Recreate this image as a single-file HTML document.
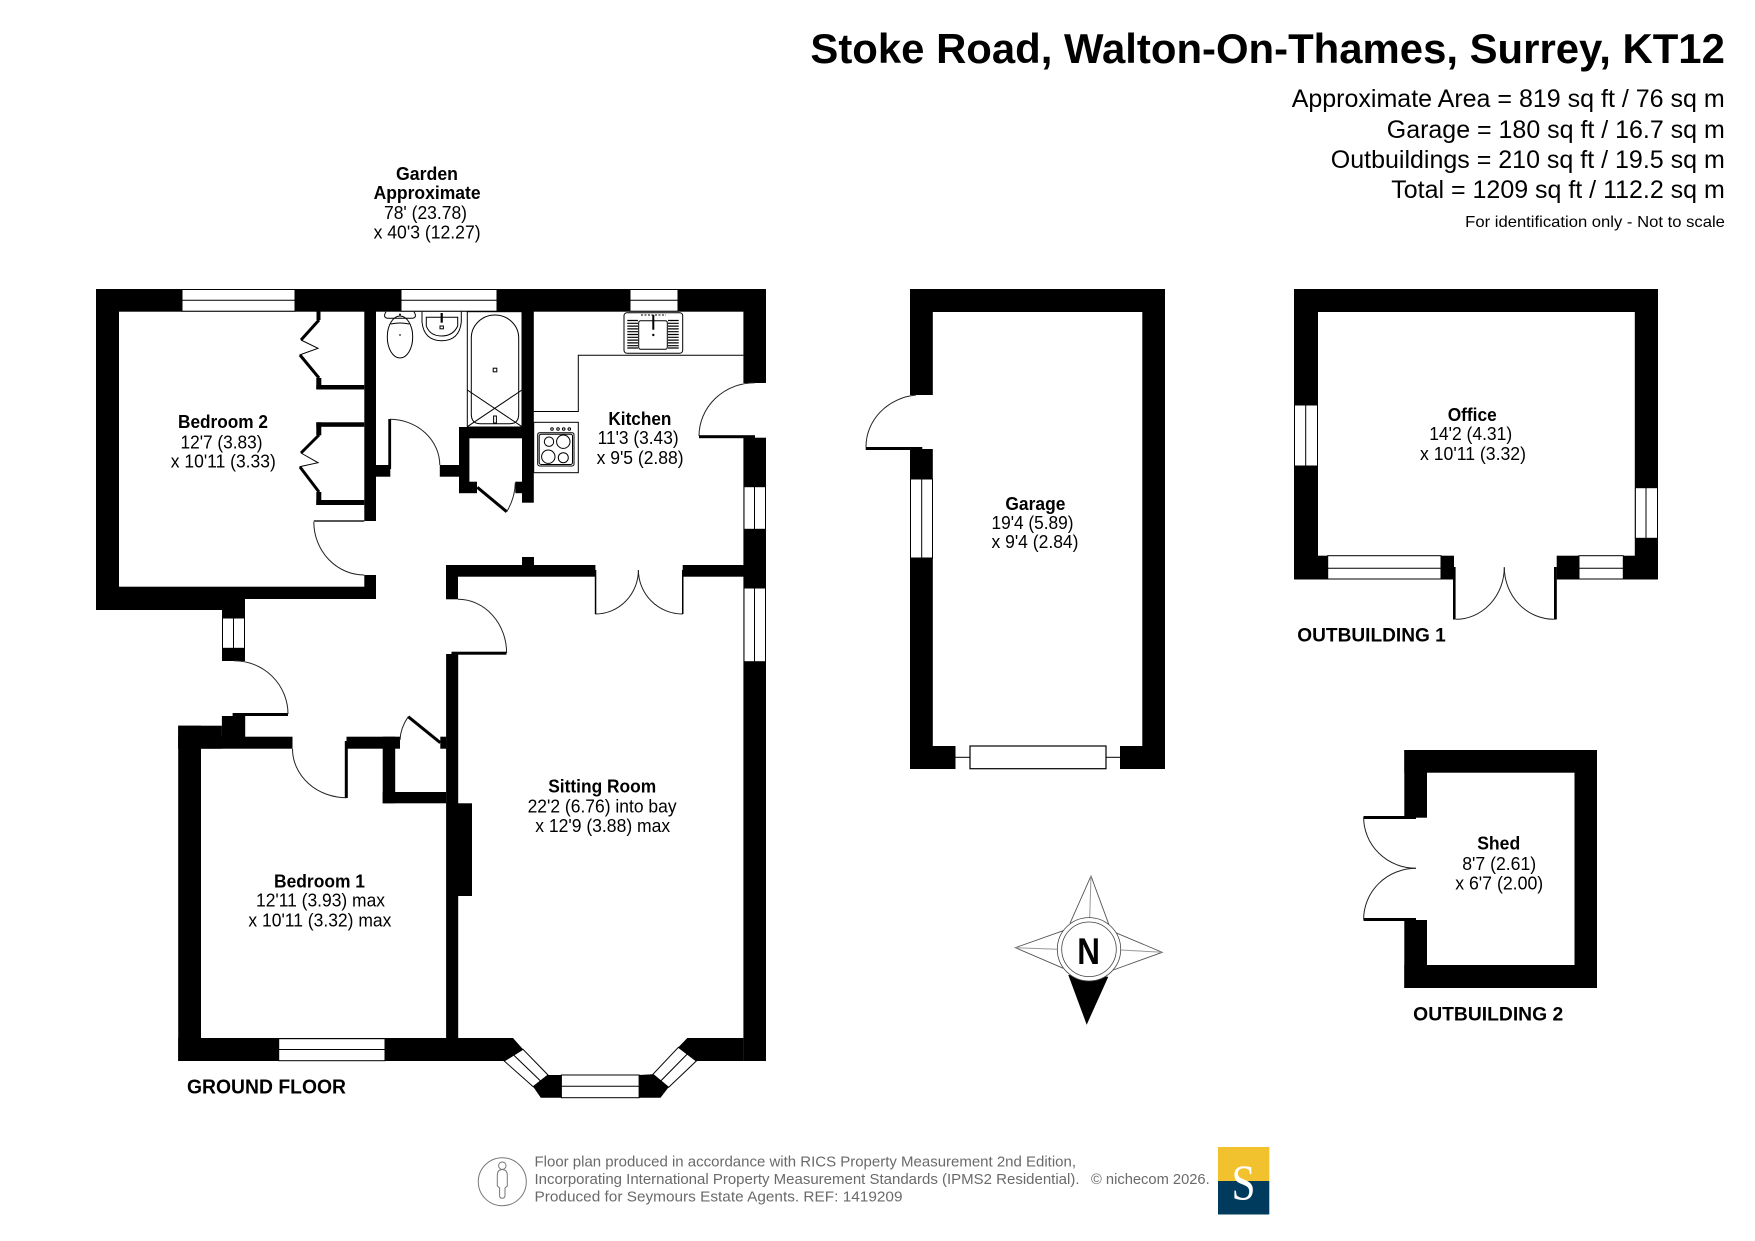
<!DOCTYPE html>
<html><head><meta charset="utf-8"><title>Stoke Road floor plan</title>
<style>html,body{margin:0;padding:0;background:#fff}svg{display:block}
text{font-family:"Liberation Sans",sans-serif;fill:#000}
.b{font-weight:bold}.r{font-size:18px}.h{font-size:18px;font-weight:bold}
.l{fill:none;stroke:#000;stroke-width:1}.t{fill:none;stroke:#000;stroke-width:3}.a{fill:none;stroke:#222;stroke-width:1}
.w{fill:#fff;stroke:#000;stroke-width:1}.f{font-size:14.5px;fill:#6a6a6a}</style></head>
<body>
<svg width="1755" height="1241" viewBox="0 0 1755 1241" xmlns="http://www.w3.org/2000/svg">
<rect width="1755" height="1241" fill="#fff"/>
<!-- header -->
<text x="810.4" y="63" class="b" font-size="42" textLength="914.5" lengthAdjust="spacingAndGlyphs">Stoke Road, Walton-On-Thames, Surrey, KT12</text>
<text x="1291.7" y="107" font-size="25" textLength="433" lengthAdjust="spacingAndGlyphs">Approximate Area = 819 sq ft / 76 sq m</text>
<text x="1386.8" y="138" font-size="25" textLength="338" lengthAdjust="spacingAndGlyphs">Garage = 180 sq ft / 16.7 sq m</text>
<text x="1330.8" y="168" font-size="25" textLength="394" lengthAdjust="spacingAndGlyphs">Outbuildings = 210 sq ft / 19.5 sq m</text>
<text x="1391.3" y="198" font-size="25" textLength="333.5" lengthAdjust="spacingAndGlyphs">Total = 1209 sq ft / 112.2 sq m</text>
<text x="1465.2" y="227" font-size="16" textLength="259.7" lengthAdjust="spacingAndGlyphs">For identification only - Not to scale</text>
<!-- garden -->
<text x="396" y="180" class="h" textLength="62" lengthAdjust="spacingAndGlyphs">Garden</text>
<text x="373.6" y="199" class="h" textLength="107" lengthAdjust="spacingAndGlyphs">Approximate</text>
<text x="384" y="219" class="r" textLength="83" lengthAdjust="spacingAndGlyphs">78' (23.78)</text>
<text x="373.6" y="238.6" class="r" textLength="107" lengthAdjust="spacingAndGlyphs">x 40'3 (12.27)</text>

<!-- GROUND FLOOR walls -->
<g fill="#000">
<rect x="96" y="289" width="670" height="22.7"/>
<rect x="96" y="289" width="23" height="321"/>
<rect x="96" y="586.7" width="280" height="12.3"/>
<rect x="96" y="599" width="149" height="11"/>
<rect x="364.3" y="289" width="11.7" height="232"/>
<rect x="364.3" y="575" width="11.7" height="24"/>
<rect x="743.4" y="289" width="22.6" height="94"/>
<rect x="743.4" y="437.7" width="22.6" height="623.3"/>
<!-- wardrobes -->
<rect x="316.5" y="311" width="4" height="9"/>
<rect x="316.3" y="378" width="5" height="11"/>
<rect x="316.3" y="385" width="48" height="4.5"/>
<rect x="316.3" y="422.3" width="48" height="4.5"/>
<rect x="316.3" y="422.3" width="5" height="13"/>
<rect x="316.3" y="492" width="5" height="13"/>
<rect x="316.3" y="500" width="48" height="5"/>
<!-- bathroom walls -->
<rect x="522" y="289" width="11.8" height="213.7"/>
<rect x="376" y="465" width="14.3" height="11.7"/>
<rect x="388.3" y="419" width="2.8" height="50"/>
<rect x="439.8" y="465" width="20" height="11.7"/>
<rect x="459" y="427" width="63" height="11.3"/>
<rect x="459" y="427" width="10.4" height="66"/>
<rect x="459" y="481.7" width="18" height="11.5"/>
<rect x="515.3" y="481.7" width="7" height="11.5"/>
<!-- sitting room walls -->
<rect x="446" y="565" width="149.4" height="11.7"/>
<rect x="522" y="557" width="12" height="8"/>
<rect x="446" y="565" width="12" height="34.3"/>
<rect x="682.7" y="565" width="61" height="11.7"/>
<rect x="446.1" y="654" width="12.1" height="407"/>
<rect x="457" y="803.3" width="15" height="92.7"/>
<rect x="451.5" y="651.7" width="55" height="3"/>
<!-- bedroom 1 -->
<rect x="178.2" y="725.7" width="22.8" height="335.3"/>
<rect x="178.2" y="725.7" width="43.7" height="23"/>
<rect x="221.9" y="716" width="23.3" height="32"/>
<rect x="232.6" y="713" width="55.4" height="3"/>
<rect x="178.2" y="736.7" width="114.3" height="12"/>
<rect x="346.5" y="736.7" width="53.5" height="12"/>
<rect x="344.8" y="741" width="3" height="57"/>
<rect x="382.7" y="736.7" width="12.5" height="66.6"/>
<rect x="382.7" y="792" width="63.4" height="11.3"/>
<rect x="440.3" y="736.7" width="6" height="12"/>
<rect x="222" y="610" width="23" height="8"/>
<rect x="222" y="648.3" width="23" height="12.7"/>
<!-- bottom wall and bay -->
<polygon points="178.2,1038 513,1038 523,1049.3 548,1075 561.4,1075 561.4,1097.7 540.8,1097.7 533.2,1086.7 504.2,1061 178.2,1061"/>
<polygon points="743.4,1038 687.3,1038 678.4,1047.3 652.9,1074.3 639.1,1075 639.1,1097.7 660.5,1097.7 668.6,1087.3 696.3,1061 743.4,1061"/>
</g>
<!-- ground floor windows -->
<g>
<rect class="w" x="182" y="289.5" width="113" height="21.7"/><line class="l" x1="182" y1="300.3" x2="295" y2="300.3"/>
<rect class="w" x="401" y="289.5" width="96" height="21.7"/><line class="l" x1="401" y1="300.3" x2="497" y2="300.3"/>
<rect class="w" x="630" y="289.5" width="48" height="21.7"/><line class="l" x1="630" y1="300.3" x2="678" y2="300.3"/>
<rect class="w" x="744" y="486.7" width="21.5" height="42.6"/><line class="l" x1="754.5" y1="486.7" x2="754.5" y2="529.3"/>
<rect class="w" x="744" y="588" width="21.5" height="73.7"/><line class="l" x1="754.5" y1="588" x2="754.5" y2="661.7"/>
<rect class="w" x="222.5" y="618" width="22" height="30.3"/><line class="l" x1="233.5" y1="618" x2="233.5" y2="648.3"/>
<rect class="w" x="278.7" y="1038.7" width="106.3" height="22"/><line class="l" x1="278.7" y1="1049.5" x2="385" y2="1049.5"/>
<rect class="w" x="561.4" y="1075" width="77.7" height="22.7"/><line class="l" x1="561.4" y1="1086.3" x2="639.1" y2="1086.3"/>
<polygon class="w" points="523,1049.3 548,1075 533.2,1086.7 504.2,1061"/><line class="l" x1="513.6" y1="1055" x2="540.6" y2="1081"/>
<polygon class="w" points="678.4,1047.3 696.3,1061 668.6,1087.3 652.9,1074.3"/><line class="l" x1="687.3" y1="1054" x2="660.7" y2="1081"/>
</g>
<!-- wardrobe doors -->
<g>
<polyline class="t" points="319,320 301,340"/><polyline class="t" points="300,355 319,378"/><polyline class="l" points="301,340 318,348.3 299.5,355"/>
<polyline class="t" points="319,435 301,453"/><polyline class="t" points="300,467 319,492"/><polyline class="l" points="301,453 318,462.7 299.5,466.7"/>
</g>
<!-- door arcs -->
<g>
<path class="a" d="M313.8 521.7 A50.5 53.3 0 0 0 364.3 575"/><rect x="313.8" y="520" width="50.5" height="2" fill="#555"/>
<path class="a" d="M390 419.3 A50 46 0 0 1 439.8 465"/>
<path class="t" d="M477.3 487.3 L506.7 511.7"/><path class="a" d="M506.7 511.7 Q515 498 515.3 482.7"/>
<path class="a" d="M699 436 A56 53.5 0 0 1 755 382.7"/><rect x="699" y="435.2" width="56" height="3" fill="#000"/>
<path class="a" d="M595.4 614 A43 44 0 0 0 638.4 570"/><path class="a" d="M682.7 614 A44.3 44 0 0 1 638.4 570"/>
<rect x="594.8" y="570" width="1.5" height="44" fill="#000"/><rect x="682" y="570" width="1.5" height="44" fill="#000"/>
<path class="a" d="M458 599.3 A48.6 53.7 0 0 1 506.6 653"/>
<path class="a" d="M234 660.7 A54 53.3 0 0 1 288 714"/>
<path class="a" d="M292.5 748.7 A54 49 0 0 0 346.5 797.7"/>
<path class="t" d="M408.2 716.7 L440.3 742.7"/><path class="a" d="M408.2 716.7 Q400.5 728 400 740"/>
</g>
<!-- bathroom fixtures -->
<g fill="none" stroke="#000" stroke-width="1">
<rect x="467.3" y="311.7" width="54.7" height="115.3"/>
<path d="M471.3 338 A23.7 23 0 0 1 518.7 338 L518.7 414 Q518.7 423.7 510 423.7 L480 423.7 Q471.3 423.7 471.3 414 Z"/>
<line x1="467.3" y1="390" x2="522" y2="426.7"/><line x1="522" y1="390" x2="467.3" y2="426.7"/>
<rect x="493.2" y="368.2" width="3.6" height="3.6"/><rect x="493.6" y="416" width="2.8" height="7"/>
<path d="M386 311.7 Q382 318.3 389 318.3 L411 318.3 Q418 318.3 414 311.7"/>
<ellipse cx="400" cy="337" rx="12.7" ry="21"/><path d="M390.7 324 Q400 322 409.3 324"/>
<circle cx="400" cy="335" r="1" fill="#555" stroke="none"/><circle cx="400" cy="314.5" r="1" fill="#000" stroke="none"/>
<path d="M422 311.7 L422 322 Q424 340.7 441.7 340.7 Q459.3 340.7 461.3 322 L461.3 311.7"/>
<path d="M426.3 317.3 L426.3 326 Q430 336 441.7 336 Q453 336 457.7 326 L457.7 317.3 Z"/>
<rect x="440" y="326" width="3.4" height="2.8"/><line x1="441.7" y1="313" x2="441.7" y2="322.7" stroke-width="2.2"/>
<!-- kitchen sink -->
<rect x="624" y="312.7" width="58.7" height="40.6" rx="3"/><rect x="638.7" y="320.7" width="28.6" height="28.6" rx="2"/>
<line x1="653.3" y1="315" x2="653.3" y2="329.7" stroke-width="2"/>
<line x1="641" y1="315" x2="666" y2="315" stroke-dasharray="2 1.5"/>
<circle cx="653.3" cy="335" r="1.2" fill="#000" stroke="none"/>
<!-- worktop -->
<polyline points="533.7,411.5 578.3,411.5 578.3,355.3 743.4,355.3"/>
<!-- oven -->
<rect x="533.7" y="422.3" width="44.6" height="50.4"/><rect x="537.7" y="432.7" width="36.3" height="33.3" rx="2"/><rect x="539.2" y="434.2" width="33.3" height="30.3" rx="2"/>
<circle cx="549" cy="441.7" r="4.7"/><circle cx="563.3" cy="441.7" r="6.7"/><circle cx="548.3" cy="456.7" r="6.7"/><circle cx="563.3" cy="457.7" r="5"/>
<circle cx="552" cy="429" r="1.3"/><circle cx="558" cy="429" r="1.3"/><circle cx="563.7" cy="429" r="1.3"/><circle cx="569.3" cy="429" r="1.3"/>
</g>
<g stroke="#000" stroke-width="1.2">
<path d="M627.3 320.5H638M627.3 323.3H638M627.3 326.1H638M627.3 328.9H638M627.3 331.7H638M627.3 334.5H638M627.3 337.3H638M627.3 340.1H638M627.3 342.9H638M627.3 345.7H638M627.3 348H638"/>
<path d="M668 320.5H678.7M668 323.3H678.7M668 326.1H678.7M668 328.9H678.7M668 331.7H678.7M668 334.5H678.7M668 337.3H678.7M668 340.1H678.7M668 342.9H678.7M668 345.7H678.7M668 348H678.7"/>
</g>
<!-- room labels -->
<text x="178" y="428" class="h" textLength="90" lengthAdjust="spacingAndGlyphs">Bedroom 2</text>
<text x="180.5" y="448.5" class="r" textLength="82" lengthAdjust="spacingAndGlyphs">12'7 (3.83)</text>
<text x="170.8" y="467.5" class="r" textLength="105" lengthAdjust="spacingAndGlyphs">x 10'11 (3.33)</text>
<text x="608.4" y="424.8" class="h" textLength="63" lengthAdjust="spacingAndGlyphs">Kitchen</text>
<text x="597.6" y="443.8" class="r" textLength="81" lengthAdjust="spacingAndGlyphs">11'3 (3.43)</text>
<text x="596.6" y="463.8" class="r" textLength="87" lengthAdjust="spacingAndGlyphs">x 9'5 (2.88)</text>
<text x="274" y="887.5" class="h" textLength="91" lengthAdjust="spacingAndGlyphs">Bedroom 1</text>
<text x="256" y="906.5" class="r" textLength="129" lengthAdjust="spacingAndGlyphs">12'11 (3.93) max</text>
<text x="248.4" y="926.5" class="r" textLength="143" lengthAdjust="spacingAndGlyphs">x 10'11 (3.32) max</text>
<text x="548.2" y="792.6" class="h" textLength="108" lengthAdjust="spacingAndGlyphs">Sitting Room</text>
<text x="527.6" y="812.6" class="r" textLength="149" lengthAdjust="spacingAndGlyphs">22'2 (6.76) into bay</text>
<text x="535.2" y="832" class="r" textLength="135" lengthAdjust="spacingAndGlyphs">x 12'9 (3.88) max</text>
<text x="187" y="1093.3" class="b" font-size="20" textLength="159" lengthAdjust="spacingAndGlyphs">GROUND FLOOR</text>

<!-- GARAGE -->
<g fill="#000">
<rect x="910" y="289" width="255" height="23"/>
<rect x="910" y="289" width="22.8" height="106"/>
<rect x="910" y="449" width="22.8" height="320"/>
<rect x="1142.3" y="289" width="22.7" height="480"/>
<rect x="910" y="746" width="45.5" height="23"/>
<rect x="1120" y="746" width="45" height="23"/>
<rect x="865.7" y="447" width="56.6" height="3"/>
</g>
<rect class="w" x="910.5" y="479" width="22" height="79"/><line class="l" x1="921.7" y1="479" x2="921.7" y2="558"/>
<rect x="970" y="746" width="136" height="22.7" fill="#fff" stroke="#000" stroke-width="1.2"/>
<line class="l" x1="955.5" y1="757.3" x2="970" y2="757.3"/><line class="l" x1="1106" y1="757.3" x2="1120" y2="757.3"/>
<path class="a" d="M866 447 A56 52 0 0 1 916 395"/>
<text x="1005.4" y="509.8" class="h" textLength="60" lengthAdjust="spacingAndGlyphs">Garage</text>
<text x="991.5" y="528.8" class="r" textLength="82" lengthAdjust="spacingAndGlyphs">19'4 (5.89)</text>
<text x="991.5" y="548" class="r" textLength="87" lengthAdjust="spacingAndGlyphs">x 9'4 (2.84)</text>

<!-- OFFICE -->
<g fill="#000">
<rect x="1294" y="289" width="364" height="23"/>
<rect x="1294" y="289" width="24" height="290.5"/>
<rect x="1634.8" y="289" width="23.2" height="290.5"/>
<rect x="1294" y="555.7" width="34" height="23.8"/>
<rect x="1441" y="555.7" width="13" height="23.8"/>
<rect x="1556.7" y="555.7" width="22.3" height="23.8"/>
<rect x="1623.3" y="555.7" width="34.7" height="23.8"/>
<rect x="1453" y="567" width="2.6" height="52.5"/><rect x="1554" y="567" width="2.8" height="52.5"/>
</g>
<rect class="w" x="1294.5" y="405" width="23" height="61"/><line class="l" x1="1305.7" y1="405" x2="1305.7" y2="466"/>
<rect class="w" x="1635.4" y="487.7" width="22.1" height="50.6"/><line class="l" x1="1646" y1="487.7" x2="1646" y2="538.3"/>
<rect class="w" x="1327.7" y="555.7" width="113.3" height="23.3"/><line class="l" x1="1327.7" y1="568.3" x2="1441" y2="568.3"/>
<rect class="w" x="1579" y="555.7" width="44.3" height="23.3"/><line class="l" x1="1579" y1="568.3" x2="1623.3" y2="568.3"/>
<path class="a" d="M1455.7 619.3 A48.6 52 0 0 0 1504.3 567.3"/><path class="a" d="M1554 619.3 A49.7 52 0 0 1 1504.3 567.3"/>
<text x="1447.7" y="420.8" class="h" textLength="49" lengthAdjust="spacingAndGlyphs">Office</text>
<text x="1429.2" y="439.8" class="r" textLength="83" lengthAdjust="spacingAndGlyphs">14'2 (4.31)</text>
<text x="1420" y="459.8" class="r" textLength="106" lengthAdjust="spacingAndGlyphs">x 10'11 (3.32)</text>
<text x="1297.3" y="641.5" class="b" font-size="19" textLength="148.5" lengthAdjust="spacingAndGlyphs">OUTBUILDING 1</text>

<!-- SHED -->
<g fill="#000">
<rect x="1404.3" y="750" width="192.7" height="22.7"/>
<rect x="1404.3" y="750" width="22.7" height="67.7"/>
<rect x="1404.3" y="920" width="22.7" height="68"/>
<rect x="1574.5" y="750" width="22.5" height="238"/>
<rect x="1404.3" y="965" width="192.7" height="23"/>
<rect x="1363.6" y="816" width="52.4" height="3"/>
<rect x="1363.6" y="918" width="52.4" height="3"/>
</g>
<path class="a" d="M1363.6 817 A52.4 51.3 0 0 0 1416 868.3"/><path class="a" d="M1363.6 919.5 A52.4 51.2 0 0 1 1416 868.3"/>
<text x="1477.2" y="849.5" class="h" textLength="43" lengthAdjust="spacingAndGlyphs">Shed</text>
<text x="1462.2" y="870" class="r" textLength="74" lengthAdjust="spacingAndGlyphs">8'7 (2.61)</text>
<text x="1455.2" y="889.3" class="r" textLength="88" lengthAdjust="spacingAndGlyphs">x 6'7 (2.00)</text>
<text x="1413.2" y="1020.5" class="b" font-size="19" textLength="150" lengthAdjust="spacingAndGlyphs">OUTBUILDING 2</text>

<!-- COMPASS -->
<g>
<polyline points="1070,923.3 1091,876 1109.3,925.7" fill="none" stroke="#555" stroke-width=".9"/>
<polyline points="1063.3,930.7 1015.3,947.7 1063.3,968.3" fill="none" stroke="#555" stroke-width=".9"/>
<polyline points="1113.3,931.7 1162.3,952.3 1113.3,970" fill="none" stroke="#555" stroke-width=".9"/>
<polygon points="1068.3,975 1108.3,976.7 1086.7,1024.7" fill="#000"/>
<line x1="1091" y1="876" x2="1089.7" y2="918" stroke="#999"/><line x1="1015.3" y1="947.7" x2="1057.3" y2="949.3" stroke="#999"/><line x1="1162.3" y1="952.3" x2="1120.7" y2="950" stroke="#999"/>
<circle cx="1089" cy="949.3" r="31.7" fill="#fff" stroke="#444" stroke-width=".8"/>
<circle cx="1089" cy="949.3" r="27.3" fill="#fff" stroke="#444" stroke-width=".8"/>
<text x="1077.3" y="964" class="b" font-size="37" textLength="22.7" lengthAdjust="spacingAndGlyphs">N</text>
</g>

<!-- FOOTER -->
<g fill="none" stroke="#777" stroke-width="1">
<circle cx="502.3" cy="1181.7" r="24"/>
<circle cx="502.3" cy="1165.7" r="3.7"/>
<path d="M497.3 1175 Q497.5 1169.5 502.3 1169.5 Q507 1169.5 507.3 1175 L507.3 1186 L505 1188 L505 1196 Q504.5 1198.3 502.3 1198.3 Q500 1198.3 499.6 1196 L499.6 1188 L497.3 1186 Z"/>
</g>
<text x="534.5" y="1166.3" class="f" textLength="541.5" lengthAdjust="spacingAndGlyphs">Floor plan produced in accordance with RICS Property Measurement 2nd Edition,</text>
<text x="534.5" y="1184" class="f" textLength="545" lengthAdjust="spacingAndGlyphs">Incorporating International Property Measurement Standards (IPMS2 Residential).</text>
<text x="534.5" y="1201.5" class="f" textLength="368" lengthAdjust="spacingAndGlyphs">Produced for Seymours Estate Agents.   REF: 1419209</text>
<text x="1091" y="1184" class="f" textLength="118.7" lengthAdjust="spacingAndGlyphs">© nichecom 2026.</text>
<rect x="1218" y="1147" width="51.3" height="34" fill="#F2C12E"/>
<rect x="1218" y="1181" width="51.3" height="33.5" fill="#003A5C"/>
<text x="1231.5" y="1199" font-size="50" style="font-family:'Liberation Serif',serif;fill:#fff" textLength="24" lengthAdjust="spacingAndGlyphs">S</text>
</svg>
</body></html>
